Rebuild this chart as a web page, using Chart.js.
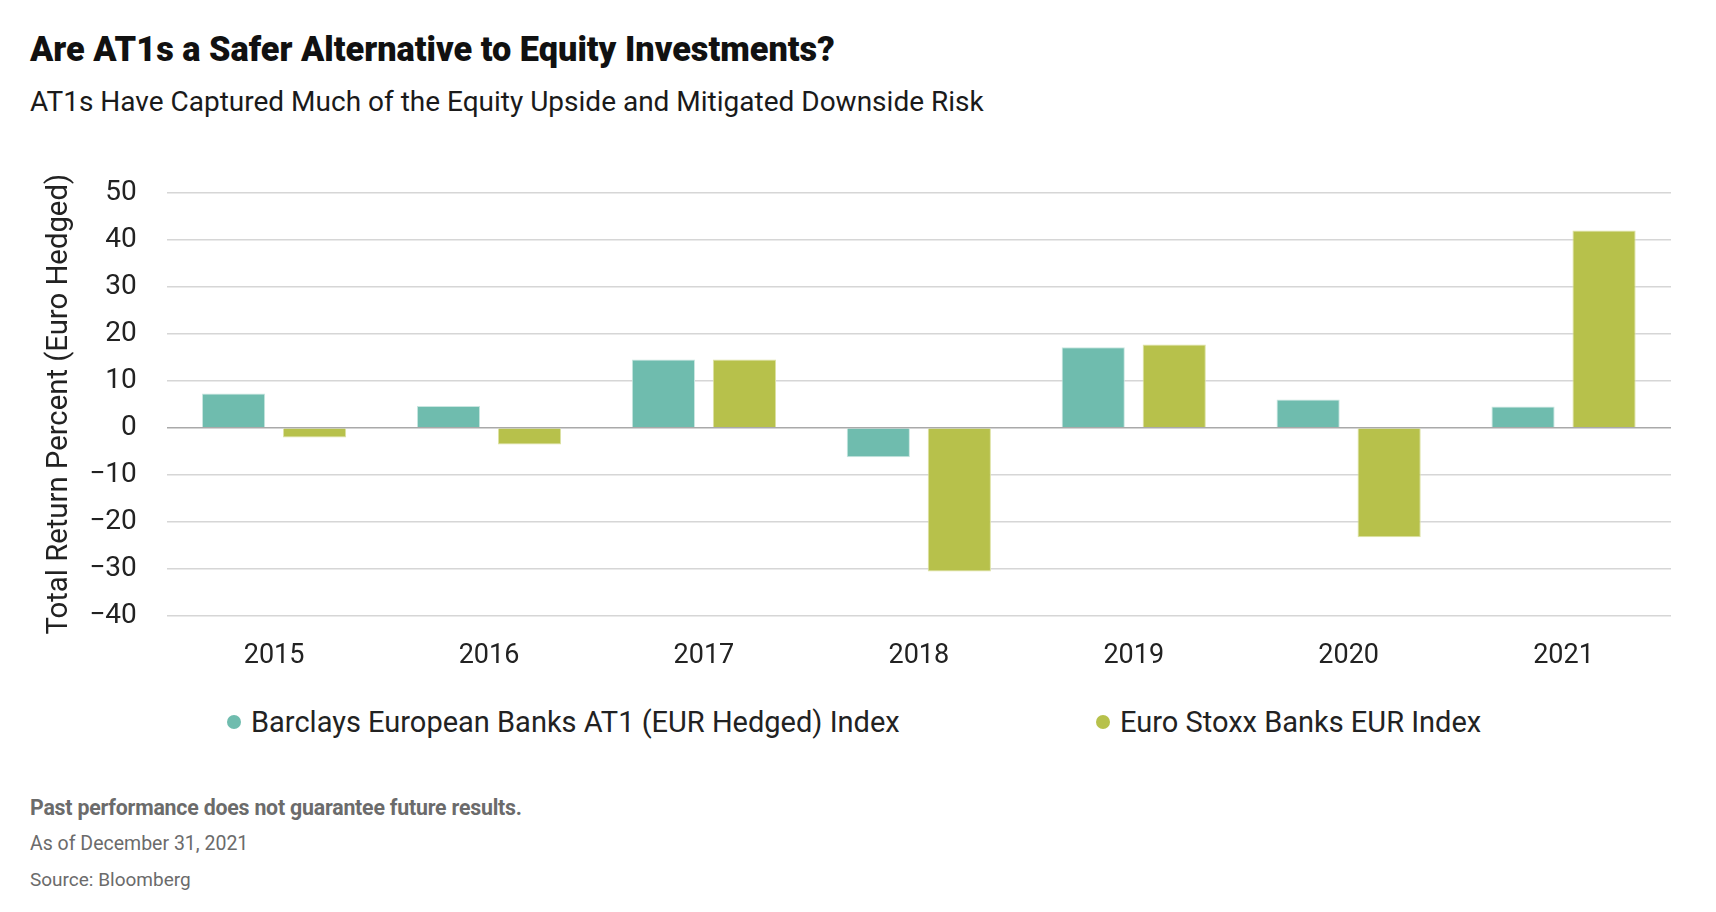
<!DOCTYPE html>
<html lang="en">
<head>
<meta charset="UTF-8" />
<title>Are AT1s a Safer Alternative to Equity Investments?</title>
<script src="https://cdn.jsdelivr.net/npm/chart.js"></script>
<style>
  html, body { margin: 0; padding: 0; background: #fff; }
  body { width: 1716px; height: 912px; position: relative; overflow: hidden; font-family: Roboto, "Noto Sans", sans-serif; }
  h1 { position: absolute; left: 30px; top: 29px; margin: 0; font-size: 34.3px; font-weight: 900; color: #111; }
  h2 { position: absolute; left: 30px; top: 85px; margin: 0; font-size: 28px; font-weight: 400; color: #1a1a1a; }
  .chart-box { position: absolute; left: 0; top: 146px; width: 1716px; height: 542px; }
  .legend { position: absolute; top: 705px; left: 0; width: 1716px; height: 36px; }
  .legend .item { position: absolute; top: 0; display: flex; align-items: center; font-size: 29px; color: #222; white-space: nowrap; }
  .legend .dot { width: 14px; height: 14px; border-radius: 50%; margin-right: 10px; }
  .notes { position: absolute; left: 30px; top: 797px; color: #6b6b6b; }
  .notes p { margin: 0 0 15px 0; line-height: 21px; font-size: 19.5px; }
  .notes .bold { font-weight: 700; font-size: 21.3px; letter-spacing: -0.2px; }
  .notes .src { font-size: 19px; }
</style>
</head>
<body>
  <h1>Are AT1s a Safer Alternative to Equity Investments?</h1>
  <h2>AT1s Have Captured Much of the Equity Upside and Mitigated Downside Risk</h2>

  <div class="chart-box"><canvas id="at1Chart"></canvas></div>
  <div class="legend" id="legend"></div>

  <div class="notes">
    <p class="bold">Past performance does not guarantee future results.</p>
    <p>As of December 31, 2021</p>
    <p class="src">Source: Bloomberg</p>
  </div>

<script>
  const years = ['2015', '2016', '2017', '2018', '2019', '2020', '2021'];
  const at1Returns = [7.3, 4.6, 14.5, -6.3, 17.1, 6.0, 4.5];
  const stoxxReturns = [-2.1, -3.6, 14.5, -30.6, 17.7, -23.3, 42.0];
  const seriesNames = ['Barclays European Banks AT1 (EUR Hedged) Index', 'Euro Stoxx Banks EUR Index'];
  const yMin = -40, yMax = 50, yStep = 10;

  const teal = '#6fbcae';
  const olive = '#b7c14b';

  const chart = new Chart(document.getElementById('at1Chart'), {
    type: 'bar',
    data: {
      labels: years,
      datasets: [
        {
          label: seriesNames[0],
          data: at1Returns,
          backgroundColor: teal,
          borderColor: '#c9e6e0',
          borderWidth: 1,
          categoryPercentage: 0.754,
          barPercentage: 0.78
        },
        {
          label: seriesNames[1],
          data: stoxxReturns,
          backgroundColor: olive,
          borderColor: '#dde2a4',
          borderWidth: 1,
          categoryPercentage: 0.754,
          barPercentage: 0.78
        }
      ]
    },
    options: {
      responsive: true,
      maintainAspectRatio: false,
      animation: false,
      layout: { padding: { top: 15, left: 40, right: 45, bottom: 0 } },
      plugins: {
        tooltip: { enabled: false },
        legend: { display: false }
      },
      scales: {
        x: {
          grid: { display: false },
          border: { display: false },
          ticks: { color: '#222', padding: 16, font: { family: 'Roboto', size: 27 } }
        },
        y: {
          min: yMin,
          max: yMax,
          border: { display: false },
          grid: {
            drawTicks: false,
            lineWidth: 1.5,
            color: ctx => ctx.tick && ctx.tick.value === 0 ? '#a9a9a9' : '#d6d6d6'
          },
          ticks: {
            stepSize: yStep,
            autoSkip: false,
            padding: 30,
            color: '#222',
            font: { family: 'Roboto', size: 28 },
            callback: v => String(v).replace('-', '\u2212')
          },
          title: {
            display: true,
            text: 'Total Return Percent (Euro Hedged)',
            color: '#222',
            padding: { top: 2, bottom: -18 },
            font: { family: 'Roboto', size: 29.3 }
          }
        }
      }
    }
  });

  // legend drawn as html so the two items can sit far apart like the original
  const legendLeft = [227, 1096];
  const legendBox = document.getElementById('legend');
  chart.data.datasets.forEach((ds, i) => {
    const item = document.createElement('div');
    item.className = 'item';
    item.style.left = legendLeft[i] + 'px';
    const dot = document.createElement('span');
    dot.className = 'dot';
    dot.style.background = ds.backgroundColor;
    item.appendChild(dot);
    item.appendChild(document.createTextNode(ds.label));
    legendBox.appendChild(item);
  });
</script>
</body>
</html>
